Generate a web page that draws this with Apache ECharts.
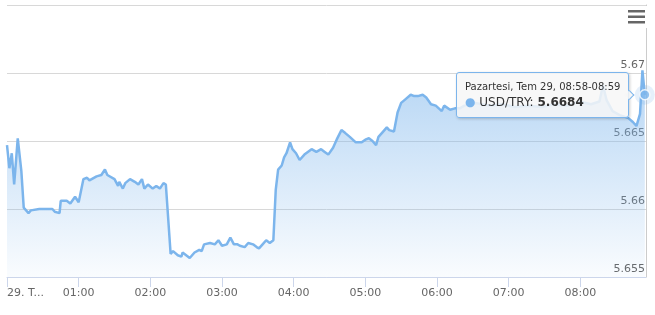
<!DOCTYPE html>
<html>
<head>
<meta charset="utf-8">
<script src="https://cdn.jsdelivr.net/npm/echarts@6/dist/echarts.min.js"></script>
<style>
html,body{margin:0;padding:0;background:#fff;}
#chart{width:655px;height:315px;}
</style>
</head>
<body>
<div id="chart"></div>
<script>
// ---- data (minutes since 00:00, Tem 29) ----
var minutes = [0,2,4,6,9,12,14,16,18,20,27,38,40,44,45,50,53,57,60,64,67,69,75,79,80,82,84,90,93,94,97,99,103,107,110,113,115,118,122,125,128,131,133,137,139,143,146,147,153,157,161,163,165,170,174,177,180,184,187,190,193,195,199,202,206,209,211,214,217,220,223,225,227,230,232,234,237,239,242,245,249,255,259,263,266,269,273,276,280,283,287,292,297,300,303,306,309,311,314,318,320,324,327,330,334,338,341,344,348,351,355,359,364,366,371,375,379,383,392,404,415,425,437,448,458,469,479,489,496,499,502,507,513,520,524,527,530,532,534];
var usdTry = [5.6647,5.6630,5.6641,5.6618,5.6652,5.6628,5.6601,5.6599,5.6597,5.6599,5.6600,5.6600,5.6598,5.6597,5.6606,5.6606,5.6604,5.6609,5.6605,5.6622,5.6623,5.6621,5.6624,5.6625,5.6624,5.6629,5.6625,5.6622,5.6617,5.6620,5.6615,5.6619,5.6622,5.6620,5.6618,5.6622,5.6615,5.6618,5.6615,5.6617,5.6615,5.6619,5.6618,5.6567,5.6569,5.6566,5.6565,5.6568,5.6564,5.6568,5.6570,5.6569,5.6574,5.6575,5.6574,5.6577,5.6573,5.6574,5.6579,5.6574,5.6574,5.6573,5.6572,5.6575,5.6574,5.6572,5.6571,5.6574,5.6577,5.6575,5.6577,5.6614,5.6629,5.6632,5.6638,5.6641,5.6649,5.6644,5.6641,5.6636,5.6640,5.6644,5.6642,5.6644,5.6642,5.6640,5.6645,5.6651,5.6658,5.6656,5.6653,5.6649,5.6649,5.6651,5.6652,5.6650,5.6647,5.6653,5.6656,5.6660,5.6658,5.6657,5.6671,5.6678,5.6681,5.6684,5.6683,5.6683,5.6684,5.6682,5.6677,5.6676,5.6672,5.6676,5.6673,5.6674,5.6674,5.6676,5.6678,5.6676,5.6677,5.6675,5.6676,5.6675,5.6677,5.6676,5.6679,5.6677,5.6679,5.6691,5.6680,5.6672,5.6669,5.6667,5.6664,5.6661,5.6670,5.6702,5.6684];
var xTickValues = [0,60,120,180,240,300,360,420,480];
var xTickLabels = ['29. T...','01:00','02:00','03:00','04:00','05:00','06:00','07:00','08:00'];
var yTicks = [5.655,5.66,5.665,5.67,5.675];
var seriesName = 'USD/TRY';
var tooltipHeader = 'Pazartesi, Tem 29, 08:58-08:59';

var FONT = '"DejaVu Sans", sans-serif';
var lineData = minutes.map(function(m,i){return [m, usdTry[i]];});
var lastIdx = minutes.length - 1;
var lastPt = [minutes[lastIdx], usdTry[lastIdx]];

var chart = echarts.init(document.getElementById('chart'), null, {renderer:'canvas'});
chart.setOption({
  animation:false,
  backgroundColor:'#ffffff',
  grid:{left:7, right:9, top:5, bottom:38, containLabel:false, outerBoundsMode:'none'},
  xAxis:{
    type:'value', min:0, max:535,
    axisLine:{show:true, onZero:false, lineStyle:{color:'#ccd6eb', width:1}},
    axisTick:{show:true, length:10, lineStyle:{color:'#ccd6eb'}, customValues:xTickValues},
    axisLabel:{
      customValues:xTickValues, margin:11, alignMinLabel:'left', hideOverlap:false,
      fontFamily:FONT, fontSize:11, color:'#666666',
      formatter:function(v){ var i = xTickValues.indexOf(v); return i>=0 ? xTickLabels[i] : ''; }
    },
    splitLine:{show:false}
  },
  yAxis:{
    type:'value', position:'right', min:yTicks[0], max:yTicks[yTicks.length-1], interval:0.005,
    axisLine:{show:true, onZero:false, lineStyle:{color:'#cccccc'}},
    axisTick:{show:false},
    axisLabel:{
      inside:true, margin:1, showMaxLabel:false, verticalAlign:'bottom', padding:[0,0,2,0],
      fontFamily:FONT, fontSize:11, color:'#666666',
      formatter:function(v){ return String(+v.toFixed(4)); }
    },
    splitLine:{show:true, lineStyle:{color:'#d8d8d8', width:1}}
  },
  tooltip:{
    trigger:'item', alwaysShowContent:true, transitionDuration:0, position:'left',
    backgroundColor:'rgba(247,247,247,0.85)', borderColor:'#7cb5ec', borderWidth:1, borderRadius:3,
    padding:[6,8], extraCssText:'box-shadow:1px 1px 3px rgba(0,0,0,0.2);',
    textStyle:{fontFamily:FONT, fontSize:12, color:'#333333'},
    formatter:function(p){
      return '<div style="font-size:10px;line-height:15px;font-family:DejaVu Sans">'+tooltipHeader+'</div>'+
        '<div style="font-size:12px;line-height:17px;font-family:DejaVu Sans"><span style="color:#7cb5ec">\u25CF</span> '+seriesName+': <b>'+p.value[1].toFixed(4)+'</b></div>';
    }
  },
  series:[
    {
      type:'line', name:seriesName, data:lineData, showSymbol:false, symbol:'none',
      lineStyle:{color:'#7cb5ec', width:2.5},
      areaStyle:{color:new echarts.graphic.LinearGradient(0,0,0,1,[
        {offset:0, color:'rgba(124,181,236,0.8)'},
        {offset:1, color:'rgba(124,181,236,0.06)'}
      ])},
      silent:true, tooltip:{show:false}, z:2
    },
    {
      type:'scatter', data:[lastPt], symbolSize:20, clip:false, silent:true, tooltip:{show:false},
      itemStyle:{color:'rgba(124,181,236,0.25)'}, z:3
    },
    {
      type:'scatter', name:seriesName, data:[lastPt], symbolSize:10, clip:false,
      itemStyle:{color:'#7cb5ec', borderColor:'#ffffff', borderWidth:1.5}, z:4
    }
  ],
  graphic:[
    {type:'rect', shape:{x:621, y:6, width:28, height:22}, style:{fill:'#ffffff'}, z:100},
    {type:'rect', shape:{x:628, y:10, width:17, height:2.5}, style:{fill:'#666666'}, z:101},
    {type:'rect', shape:{x:628, y:15.5, width:17, height:2.5}, style:{fill:'#666666'}, z:101},
    {type:'rect', shape:{x:628, y:21, width:17, height:2.5}, style:{fill:'#666666'}, z:101}
  ]
});
chart.dispatchAction({type:'showTip', seriesIndex:2, dataIndex:0});
</script>
</body>
</html>
